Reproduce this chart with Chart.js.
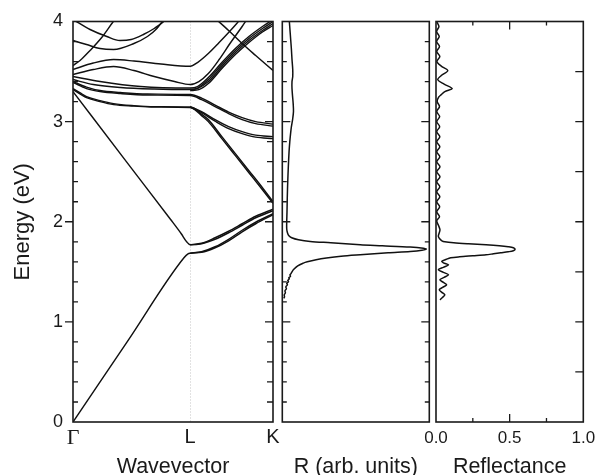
<!DOCTYPE html>
<html>
<head>
<meta charset="utf-8">
<script src="https://cdn.jsdelivr.net/npm/chart.js@4.4.1/dist/chart.umd.min.js"></script>
<style>
  html, body { margin: 0; padding: 0; background: #ffffff; }
  #wrap { position: relative; width: 595px; height: 475px; overflow: hidden; background: #ffffff; }
  #wrap canvas { position: absolute; top: 0; }
</style>
</head>
<body>
<div id="wrap">
  <canvas id="bands" width="280" height="475" style="left:0px;width:280px;height:475px"></canvas>
  <canvas id="signal" width="160" height="475" style="left:276px;width:160px;height:475px"></canvas>
  <canvas id="refl" width="179" height="475" style="left:416px;width:179px;height:475px"></canvas>
</div>
<script>
// ---- wavevector path Γ–L–K (units of 2π/a) ----
const kTickValues = [0, 0.866, 1.478];
const kTickLabels = ['Γ', 'L', 'K'];
const energyTicks = [0, 1, 2, 3, 4];
const energyMinor = [0.2, 0.4, 0.6, 0.8, 1.2, 1.4, 1.6, 1.8, 2.2, 2.4, 2.6, 2.8, 3.2, 3.4, 3.6, 3.8];
const energyMajor = [1, 2, 3];
const energyHalf = [0.5, 1, 1.5, 2, 2.5, 3, 3.5];
const reflTicks = [0, 0.5, 1];
const reflMinor = [0.25, 0.75];
const reflMajor = [0.5];

// ---- photonic bands: [k, E (eV)] ----
const bandAcoustic = [[0,0],[0.40,0.80],[0.82,1.64],[0.85,1.68],[0.866,1.686],[0.95,1.695],[1.05,1.74],[1.15,1.81],[1.25,1.90],[1.35,1.98],[1.478,2.07]];
const bandAcousticSplit = [[0.866,1.686],[0.95,1.70],[1.05,1.75],[1.15,1.825],[1.25,1.915],[1.35,1.995],[1.478,2.08]];
const bandSecond = [[0,3.30],[0.40,2.59],[0.72,2.025],[0.80,1.88],[0.84,1.80],[0.866,1.77],[0.95,1.78],[1.05,1.825],[1.15,1.89],[1.25,1.965],[1.35,2.04],[1.478,2.11]];
const bandSecondSplit = [[0.866,1.77],[0.95,1.785],[1.05,1.84],[1.15,1.905],[1.25,1.98],[1.35,2.055],[1.478,2.125]];
const bandFlatA = [[0,3.33],[0.05,3.29],[0.1,3.25],[0.2,3.21],[0.3,3.18],[0.45,3.16],[0.6,3.15],[0.866,3.147],[0.90,3.13],[0.95,3.075],[1.0,3.02],[1.1,2.85],[1.2,2.68],[1.3,2.51],[1.4,2.34],[1.478,2.20]];
const bandFlatB = [[0,3.32],[0.1,3.24],[0.2,3.20],[0.3,3.17],[0.45,3.155],[0.6,3.145],[0.866,3.14],[0.90,3.12],[0.95,3.06],[1.0,3.0],[1.1,2.83],[1.2,2.66],[1.3,2.49],[1.4,2.32],[1.478,2.185]];
const bandBendA = [[0.866,3.15],[0.95,3.10],[1.05,3.02],[1.15,2.95],[1.25,2.90],[1.35,2.865],[1.478,2.85]];
const bandBendB = [[0.866,3.145],[0.95,3.09],[1.05,3.005],[1.15,2.93],[1.25,2.88],[1.35,2.845],[1.478,2.83]];
const bandMidA = [[0,3.39],[0.1,3.33],[0.2,3.30],[0.35,3.28],[0.55,3.265],[0.866,3.26],[0.95,3.22],[1.05,3.15],[1.15,3.08],[1.25,3.02],[1.35,2.98],[1.478,2.955]];
const bandMidB = [[0,3.40],[0.1,3.345],[0.2,3.31],[0.35,3.29],[0.55,3.275],[0.866,3.27],[0.95,3.235],[1.05,3.165],[1.15,3.095],[1.25,3.04],[1.35,3.0],[1.478,2.975]];
const bandRiseA = [[0,3.42],[0.15,3.37],[0.35,3.34],[0.6,3.325],[0.866,3.32],[0.92,3.335],[1.0,3.42],[1.1,3.57],[1.2,3.71],[1.3,3.83],[1.4,3.93],[1.478,4.0]];
const bandRiseB = [[0.866,3.32],[0.92,3.33],[1.0,3.40],[1.1,3.55],[1.2,3.69],[1.3,3.81],[1.4,3.91],[1.478,3.98]];
const bandRiseC = [[0,3.45],[0.2,3.40],[0.5,3.35],[0.866,3.335],[0.92,3.35],[1.0,3.44],[1.1,3.59],[1.2,3.73],[1.3,3.85],[1.4,3.95],[1.478,4.02]];
const bandRiseD = [[0.866,3.31],[0.93,3.32],[1.0,3.38],[1.1,3.53],[1.2,3.67],[1.3,3.79],[1.4,3.895],[1.478,3.96]];
const bandHumpA = [[0,3.52],[0.15,3.585],[0.30,3.62],[0.45,3.605],[0.65,3.575],[0.866,3.553],[0.92,3.59],[1.0,3.68],[1.08,3.79],[1.15,3.89],[1.21,3.98],[1.24,4.03]];
const bandHumpB = [[0,3.47],[0.15,3.52],[0.30,3.55],[0.45,3.51],[0.6,3.45],[0.75,3.40],[0.866,3.37],[0.93,3.40],[1.0,3.48],[1.08,3.62],[1.16,3.78],[1.25,3.95],[1.29,4.03]];
const bandDipTop = [[0,4.02],[0.126,3.92],[0.25,3.85],[0.347,3.81],[0.43,3.82],[0.52,3.87],[0.6,3.93],[0.69,4.02]];
const bandSteepUp = [[0,3.56],[0.052,3.61],[0.126,3.71],[0.212,3.84],[0.298,4.0],[0.31,4.02]];
const bandCross = [[0,3.81],[0.1,3.77],[0.2,3.73],[0.3,3.72],[0.45,3.78],[0.55,3.85],[0.62,3.93],[0.67,4.02]];
const bandFallK = [[1.06,4.02],[1.15,3.91],[1.25,3.78],[1.35,3.66],[1.478,3.51]];

const bandList = [bandAcoustic, bandAcousticSplit, bandSecond, bandSecondSplit, bandFlatA, bandFlatB,
  bandBendA, bandBendB, bandMidA, bandMidB, bandRiseA, bandRiseB, bandRiseC, bandRiseD,
  bandHumpA, bandHumpB, bandDipTop, bandSteepUp, bandCross, bandFallK];

// ---- measured R spectrum (arb. units) ----
const signalEnergy = [4.00,3.90,3.82,3.72,3.62,3.52,3.45,3.40,3.33,3.25,3.18,3.10,3.02,2.95,2.89,2.80,2.70,2.55,2.40,2.25,2.10,2.00,1.93,1.89,
  1.86,1.84,1.82,1.803,1.79,1.77,1.76,1.747,1.735,1.727,1.715,1.703,1.69,1.67,1.655,1.637,1.62,1.60,1.587,1.56,1.52,
  1.50,1.48,1.47,1.455,1.44,1.43,1.415,1.40,1.385,1.37,1.35,1.33,1.31,1.29,1.27,1.25,1.235];
const signalValue = [0.048,0.053,0.057,0.062,0.066,0.071,0.071,0.066,0.066,0.070,0.074,0.076,0.070,0.062,0.057,0.051,0.046,0.041,0.037,0.034,0.032,0.030,0.030,0.035,
  0.045,0.064,0.11,0.19,0.33,0.53,0.68,0.87,0.96,0.98,0.95,0.87,0.72,0.53,0.40,0.30,0.23,0.17,0.143,0.105,0.075,
  0.066,0.058,0.052,0.056,0.044,0.048,0.037,0.042,0.030,0.035,0.024,0.028,0.018,0.021,0.013,0.015,0.010];

// ---- calculated reflectance ----
const reflEnergy = [4.00,3.95,3.90,3.85,3.80,3.75,3.70,3.65,3.60,3.555,3.51,3.465,3.42,3.375,3.33,3.30,3.27,3.245,3.20,3.15,3.10,3.05,3.00,
  2.95,2.90,2.85,2.80,2.75,2.70,2.65,2.60,2.55,2.50,2.45,2.40,2.35,2.30,2.25,2.20,2.15,2.10,2.05,2.01,1.96,1.92,1.88,1.855,1.83,
  1.81,1.80,1.79,1.78,1.77,1.76,1.75,1.74,1.725,1.71,1.70,1.69,1.68,1.67,1.66,1.65,1.64,1.625,1.605,
  1.59,1.57,1.545,1.52,1.495,1.47,1.445,1.42,1.395,1.37,1.345,1.32,1.295,1.27,1.245,1.22];
const reflValue = [0.004,0.020,0.004,0.022,0.004,0.024,0.005,0.026,0.006,0.035,0.080,0.040,0.012,0.055,0.110,0.060,0.036,0.018,0.008,0.024,0.005,0.025,0.005,
  0.025,0.005,0.026,0.005,0.026,0.005,0.026,0.005,0.027,0.005,0.027,0.005,0.026,0.005,0.026,0.005,0.025,0.005,0.024,0.005,0.018,0.027,0.020,0.016,0.025,
  0.040,0.060,0.12,0.22,0.34,0.43,0.49,0.525,0.537,0.525,0.49,0.44,0.39,0.34,0.25,0.16,0.10,0.07,0.04,
  0.05,0.085,0.05,0.016,0.05,0.085,0.055,0.026,0.05,0.072,0.045,0.022,0.04,0.06,0.045,0.027];

Chart.defaults.font.family = "'Liberation Sans', Arial, Helvetica, sans-serif";
Chart.defaults.color = '#1a1a1a';

const INK = '#1a1a1a';

// Frame, inward/outward tick marks and the L-point guide line
const panelDecor = {
  id: 'panelDecor',
  beforeDatasetsDraw(chart, args, opts) {
    if (opts.guideX == null) return;
    const { ctx, chartArea: a, scales: { x } } = chart;
    const px = Math.round(x.getPixelForValue(opts.guideX)) + 0.5;
    ctx.save();
    ctx.strokeStyle = '#c4c4c4';
    ctx.lineWidth = 1;
    ctx.setLineDash([1, 2]);
    ctx.beginPath();
    ctx.moveTo(px, a.top);
    ctx.lineTo(px, a.bottom);
    ctx.stroke();
    ctx.restore();
  },
  afterDatasetsDraw(chart, args, opts) {
    const { ctx, chartArea: a, scales: { x, y } } = chart;
    ctx.save();
    ctx.strokeStyle = INK;
    ctx.lineWidth = 1.3;
    ctx.beginPath();
    (opts.yTicks || []).forEach(t => {
      const x0 = t.side === 'left' ? a.left : a.right;
      const sign = t.side === 'left' ? (t.inward ? 1 : -1) : (t.inward ? -1 : 1);
      t.values.forEach(v => {
        const py = y.getPixelForValue(v);
        ctx.moveTo(x0, py);
        ctx.lineTo(x0 + sign * t.len, py);
      });
    });
    (opts.xTicks || []).forEach(t => {
      const y0 = t.side === 'top' ? a.top : a.bottom;
      const sign = t.side === 'top' ? 1 : -1;
      t.values.forEach(v => {
        const px = x.getPixelForValue(v);
        ctx.moveTo(px, y0);
        ctx.lineTo(px, y0 + sign * t.len);
      });
    });
    ctx.stroke();
    ctx.lineWidth = 1.6;
    ctx.strokeRect(a.left, a.top, a.right - a.left, a.bottom - a.top);
    ctx.restore();
  }
};

const common = {
  responsive: false,
  animation: false,
  events: [],
};

// ---- band structure panel ----
new Chart(document.getElementById('bands'), {
  type: 'scatter',
  data: {
    datasets: bandList.map(b => ({
      data: b.map(p => ({ x: p[0], y: p[1] })),
      showLine: true,
      borderColor: '#111111',
      borderWidth: 1.45,
      pointRadius: 0,
      cubicInterpolationMode: 'monotone',
      fill: false
    }))
  },
  options: {
    ...common,
    layout: { padding: { top: 21.5, right: 7, left: 0, bottom: 0 } },
    plugins: {
      legend: { display: false },
      tooltip: { enabled: false },
      panelDecor: {
        guideX: kTickValues[1],
        yTicks: [
          { side: 'left', values: energyMinor, len: 5, inward: true },
          { side: 'left', values: energyMajor, len: 8, inward: false },
          { side: 'right', values: energyMinor, len: 6, inward: true },
          { side: 'right', values: energyMajor, len: 8, inward: true }
        ]
      }
    },
    scales: {
      x: {
        type: 'linear', min: kTickValues[0], max: kTickValues[2],
        grid: { display: false, drawTicks: false },
        border: { display: false },
        afterBuildTicks: s => { s.ticks = kTickValues.map(v => ({ value: v })); },
        ticks: {
          padding: 3,
          autoSkip: false,
          maxRotation: 0,
          color: INK,
          font: c => (c.tick && c.tick.value === 0)
            ? { family: "'Liberation Serif', 'Times New Roman', serif", size: 22 }
            : { size: 20 },
          callback: (v, i) => kTickLabels[i]
        },
        title: { display: true, text: 'Wavevector', color: INK, font: { size: 21.5 }, padding: { top: 0, bottom: -5 } },
        afterFit: s => { s.height = 53; s.paddingLeft = 0; s.paddingRight = 0; }
      },
      y: {
        type: 'linear', min: 0, max: 4,
        afterBuildTicks: s => { s.ticks = energyTicks.map(v => ({ value: v })); },
        ticks: { padding: 10, color: INK, font: { size: 18 } },
        grid: { display: false, drawTicks: false },
        border: { display: false },
        title: { display: true, text: 'Energy (eV)', color: INK, font: { size: 22 }, padding: { top: 10, bottom: 0 } },
        afterFit: s => { s.width = 73; s.paddingTop = 0; s.paddingBottom = 0; }
      }
    }
  },
  plugins: [panelDecor]
});

// ---- R spectrum panel ----
new Chart(document.getElementById('signal'), {
  type: 'scatter',
  data: {
    datasets: [{
      data: signalEnergy.map((e, i) => ({ x: signalValue[i], y: e })),
      showLine: true,
      borderColor: '#111111',
      borderWidth: 1.5,
      pointRadius: 0,
      tension: 0.3,
      fill: false
    }]
  },
  options: {
    ...common,
    layout: { padding: { top: 21.5, right: 6.7, left: 0, bottom: 0 } },
    plugins: {
      legend: { display: false },
      tooltip: { enabled: false },
      panelDecor: {
        yTicks: [
          { side: 'left', values: energyMinor, len: 4.5, inward: true },
          { side: 'left', values: energyMajor, len: 8, inward: true },
          { side: 'right', values: energyMinor, len: 4.5, inward: true },
          { side: 'right', values: energyMajor, len: 8, inward: true }
        ]
      }
    },
    scales: {
      x: {
        type: 'linear', min: 0, max: 1,
        grid: { display: false, drawTicks: false },
        border: { display: false },
        ticks: { display: false },
        title: { display: true, text: 'R (arb. units)', color: INK, font: { size: 21.5 }, padding: { top: 0, bottom: -5 } },
        afterFit: s => { s.height = 53; s.paddingLeft = 0; s.paddingRight = 0; }
      },
      y: {
        type: 'linear', min: 0, max: 4,
        grid: { display: false, drawTicks: false },
        border: { display: false },
        ticks: { display: false },
        afterFit: s => { s.width = 6.3; s.paddingTop = 0; s.paddingBottom = 0; }
      }
    }
  },
  plugins: [panelDecor]
});

// ---- reflectance panel ----
new Chart(document.getElementById('refl'), {
  type: 'scatter',
  data: {
    datasets: [{
      data: reflEnergy.map((e, i) => ({ x: reflValue[i], y: e })),
      showLine: true,
      borderColor: '#111111',
      borderWidth: 1.5,
      pointRadius: 0,
      tension: 0.3,
      fill: false
    }]
  },
  options: {
    ...common,
    layout: { padding: { top: 21.5, right: 11.7, left: 0, bottom: 0 } },
    plugins: {
      legend: { display: false },
      tooltip: { enabled: false },
      panelDecor: {
        yTicks: [
          { side: 'right', values: energyHalf, len: 8, inward: true }
        ],
        xTicks: [
          { side: 'top', values: reflMinor, len: 4 },
          { side: 'top', values: reflMajor, len: 8 },
          { side: 'bottom', values: reflMinor, len: 4 },
          { side: 'bottom', values: reflMajor, len: 8 }
        ]
      }
    },
    scales: {
      x: {
        type: 'linear', min: 0, max: 1,
        afterBuildTicks: s => { s.ticks = reflTicks.map(v => ({ value: v })); },
        grid: { display: false, drawTicks: false },
        border: { display: false },
        ticks: { padding: 6, autoSkip: false, maxRotation: 0, color: INK, font: { size: 17 }, callback: v => v.toFixed(1) },
        title: { display: true, text: 'Reflectance', color: INK, font: { size: 21.5 }, padding: { top: 0, bottom: -5 } },
        afterFit: s => { s.height = 53; s.paddingLeft = 0; s.paddingRight = 0; }
      },
      y: {
        type: 'linear', min: 0, max: 4,
        grid: { display: false, drawTicks: false },
        border: { display: false },
        ticks: { display: false },
        afterFit: s => { s.width = 20; s.paddingTop = 0; s.paddingBottom = 0; }
      }
    }
  },
  plugins: [panelDecor]
});
</script>
</body>
</html>
